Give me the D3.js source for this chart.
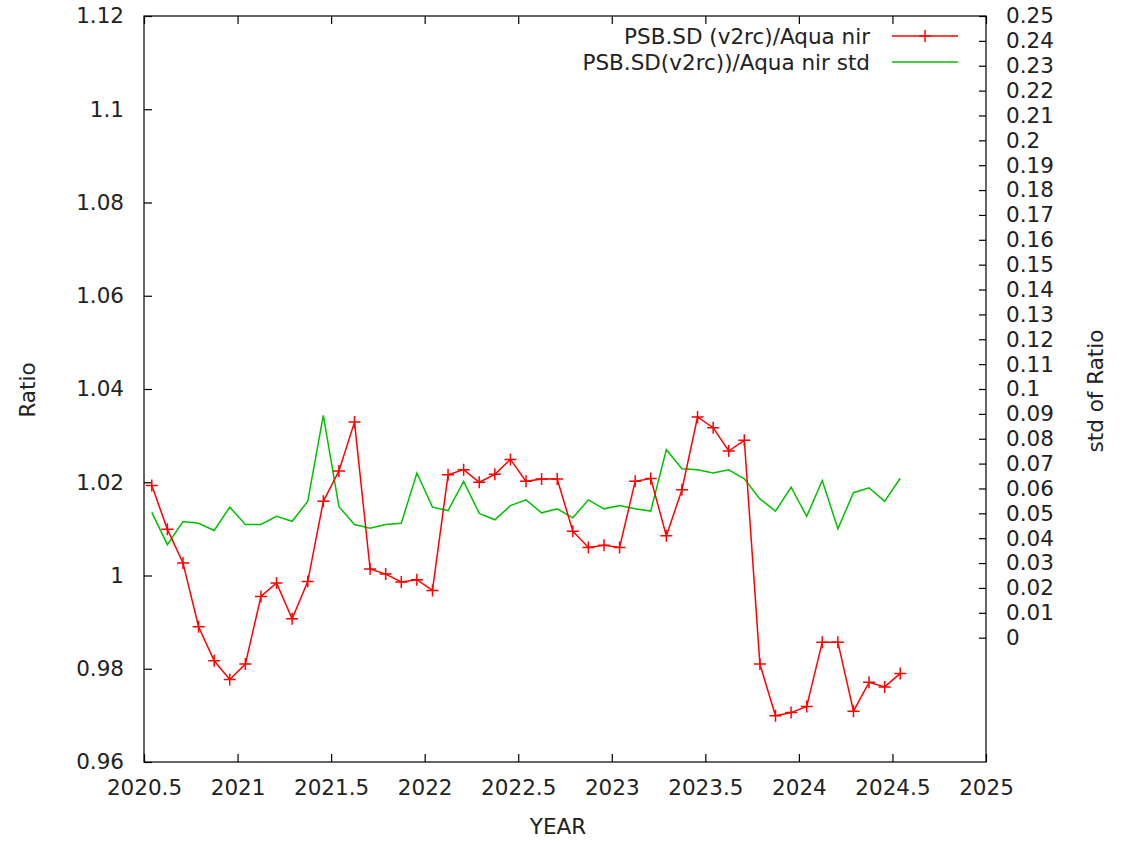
<!DOCTYPE html>
<html>
<head>
<meta charset="utf-8">
<script src="https://cdn.jsdelivr.net/npm/d3@7"></script>
<style>
    body { margin: 0; background: #fff; }
    svg { display: block; }
    svg text { font-family: "DejaVu Sans", sans-serif; }
    .tick-label { font-size: 21.5px; fill: #222; font-family: "DejaVu Sans", sans-serif; }
    .axis-title { font-size: 21.5px; fill: #222; }
    .legend text { font-size: 21.5px; fill: #222; }
</style>
</head>
<body>
<div id="chart"></div>
<script>
// months of the monthly means (plotted at mid-month)
const months = [
    '2020-07', '2020-08', '2020-09', '2020-10', '2020-11', '2020-12',
    '2021-01', '2021-02', '2021-03', '2021-04', '2021-05', '2021-06',
    '2021-07', '2021-08', '2021-09', '2021-10', '2021-11', '2021-12',
    '2022-01', '2022-02', '2022-03', '2022-04', '2022-05', '2022-06',
    '2022-07', '2022-08', '2022-09', '2022-10', '2022-11', '2022-12',
    '2023-01', '2023-02', '2023-03', '2023-04', '2023-05', '2023-06',
    '2023-07', '2023-08', '2023-09', '2023-10', '2023-11', '2023-12',
    '2024-01', '2024-02', '2024-03', '2024-04', '2024-05', '2024-06',
    '2024-07'
];

// PSB.SD (v2rc)/Aqua nir ratio (left axis)
const ratio = [
    1.0193, 1.0099, 1.0027, 0.9890, 0.9817, 0.9777, 0.9810, 0.9955, 0.9984, 0.9907,
    0.9987, 1.0159, 1.0224, 1.0329, 1.0014, 1.0003, 0.9986, 0.9991, 0.9968, 1.0216,
    1.0227, 1.0200, 1.0217, 1.0249, 1.0202, 1.0207, 1.0207, 1.0095, 1.0060, 1.0065,
    1.0060, 1.0202, 1.0208, 1.0085, 1.0184, 1.0340, 1.0317, 1.0267, 1.0290, 0.9810,
    0.9699, 0.9706, 0.9719, 0.9857, 0.9857, 0.9709, 0.9771, 0.9761, 0.9790
];

// std of ratio (right axis)
const ratioStd = [
    0.0504, 0.0374, 0.0467, 0.0460, 0.0431, 0.0525, 0.0455, 0.0455, 0.0488, 0.0468,
    0.0548, 0.0894, 0.0527, 0.0455, 0.0440, 0.0455, 0.0460, 0.0662, 0.0525, 0.0511,
    0.0628, 0.0500, 0.0474, 0.0531, 0.0554, 0.0502, 0.0518, 0.0482, 0.0554, 0.0518,
    0.0531, 0.0518, 0.0509, 0.0756, 0.0679, 0.0675, 0.0662, 0.0675, 0.0639, 0.0558,
    0.0509, 0.0605, 0.0488, 0.0632, 0.0438, 0.0583, 0.0603, 0.0548, 0.0641
];

const xTicks = [2020.5, 2021, 2021.5, 2022, 2022.5, 2023, 2023.5, 2024, 2024.5, 2025];
const yTicks = [0.96, 0.98, 1.0, 1.02, 1.04, 1.06, 1.08, 1.1, 1.12];
const y2Ticks = d3.range(0, 26).map(i => i / 100);

const seriesNames = ['PSB.SD (v2rc)/Aqua nir', 'PSB.SD(v2rc))/Aqua nir std'];

const width = 1125, height = 841;
const margin = { top: 16, right: 139, bottom: 79, left: 144 };
const innerW = width - margin.left - margin.right;
const innerH = height - margin.top - margin.bottom;

// decimal year at mid-month
const toYear = s => {
    const [y, m] = s.split('-').map(Number);
    return y + (m - 0.5) / 12;
};
const ratioData = months.map((m, i) => ({ x: toYear(m), y: ratio[i] }));
const stdData = months.map((m, i) => ({ x: toYear(m), y: ratioStd[i] }));

const svg = d3.select('#chart').append('svg')
    .attr('width', width)
    .attr('height', height);

const g = svg.append('g').attr('transform', `translate(${margin.left},${margin.top})`);

const x = d3.scaleLinear().domain([2020.5, 2025]).range([0, innerW]);
const y = d3.scaleLinear().domain([0.96, 1.12]).range([innerH, 0]);
const y2 = d3.scaleLinear().domain([-0.05, 0.25]).range([innerH, 0]);

const fmt = d => String(+d.toFixed(4));

// Axes (gnuplot style: inward ticks)
g.append('g').attr('transform', `translate(0,${innerH})`)
    .call(d3.axisBottom(x).tickValues(xTicks).tickSize(-8).tickPadding(18).tickFormat(fmt));
g.append('g')
    .call(d3.axisTop(x).tickValues(xTicks).tickSize(-8).tickFormat(''));
g.append('g')
    .call(d3.axisLeft(y).tickValues(yTicks).tickSize(-8).tickPadding(20).tickFormat(fmt));
g.append('g').attr('transform', `translate(${innerW},0)`)
    .call(d3.axisRight(y2).tickValues(y2Ticks).tickSize(-7).tickPadding(20).tickFormat(fmt));

g.selectAll('.domain').remove();
g.selectAll('.tick line').attr('stroke', '#000').attr('stroke-width', 1.2);
g.selectAll('.tick text').attr('class', 'tick-label');

// frame
g.append('rect')
    .attr('width', innerW).attr('height', innerH)
    .attr('fill', 'none').attr('stroke', '#000').attr('stroke-width', 1.2);

// Lines
const lineL = d3.line().x(d => x(d.x)).y(d => y(d.y));
const lineR = d3.line().x(d => x(d.x)).y(d => y2(d.y));

g.append('path').datum(stdData)
    .attr('d', lineR)
    .attr('fill', 'none').attr('stroke', '#00c000').attr('stroke-width', 1.5);

g.append('path').datum(ratioData)
    .attr('d', lineL)
    .attr('fill', 'none').attr('stroke', '#ff0000').attr('stroke-width', 1.5);

const crossPath = s => `M${-s},0H${s}M0,${-s}V${s}`;

g.append('g').selectAll('path').data(ratioData).enter().append('path')
    .attr('transform', d => `translate(${x(d.x)},${y(d.y)})`)
    .attr('d', crossPath(6))
    .attr('stroke', '#ff0000').attr('stroke-width', 1.5).attr('fill', 'none');

// Axis titles
svg.append('text').attr('class', 'axis-title')
    .attr('transform', `translate(35,390) rotate(-90)`)
    .attr('text-anchor', 'middle')
    .text('Ratio');

svg.append('text').attr('class', 'axis-title')
    .attr('transform', `translate(1103,391) rotate(-90)`)
    .attr('text-anchor', 'middle')
    .text('std of Ratio');

svg.append('text').attr('class', 'axis-title')
    .attr('x', 558).attr('y', 834)
    .attr('text-anchor', 'middle')
    .text('YEAR');

// Legend
const legend = svg.append('g').attr('class', 'legend');
const legendRows = [
    { name: seriesNames[0], color: '#ff0000', marker: true, yPos: 36 },
    { name: seriesNames[1], color: '#00c000', marker: false, yPos: 62 }
];
legendRows.forEach(r => {
    legend.append('text')
        .attr('x', 870).attr('y', r.yPos)
        .attr('dy', '0.35em')
        .attr('text-anchor', 'end')
        .text(r.name);
    legend.append('line')
        .attr('x1', 892).attr('x2', 958)
        .attr('y1', r.yPos).attr('y2', r.yPos)
        .attr('stroke', r.color).attr('stroke-width', 1.5);
    if (r.marker) {
        legend.append('path')
            .attr('transform', `translate(925,${r.yPos})`)
            .attr('d', crossPath(6))
            .attr('stroke', r.color).attr('stroke-width', 1.5);
    }
});
</script>
</body>
</html>
